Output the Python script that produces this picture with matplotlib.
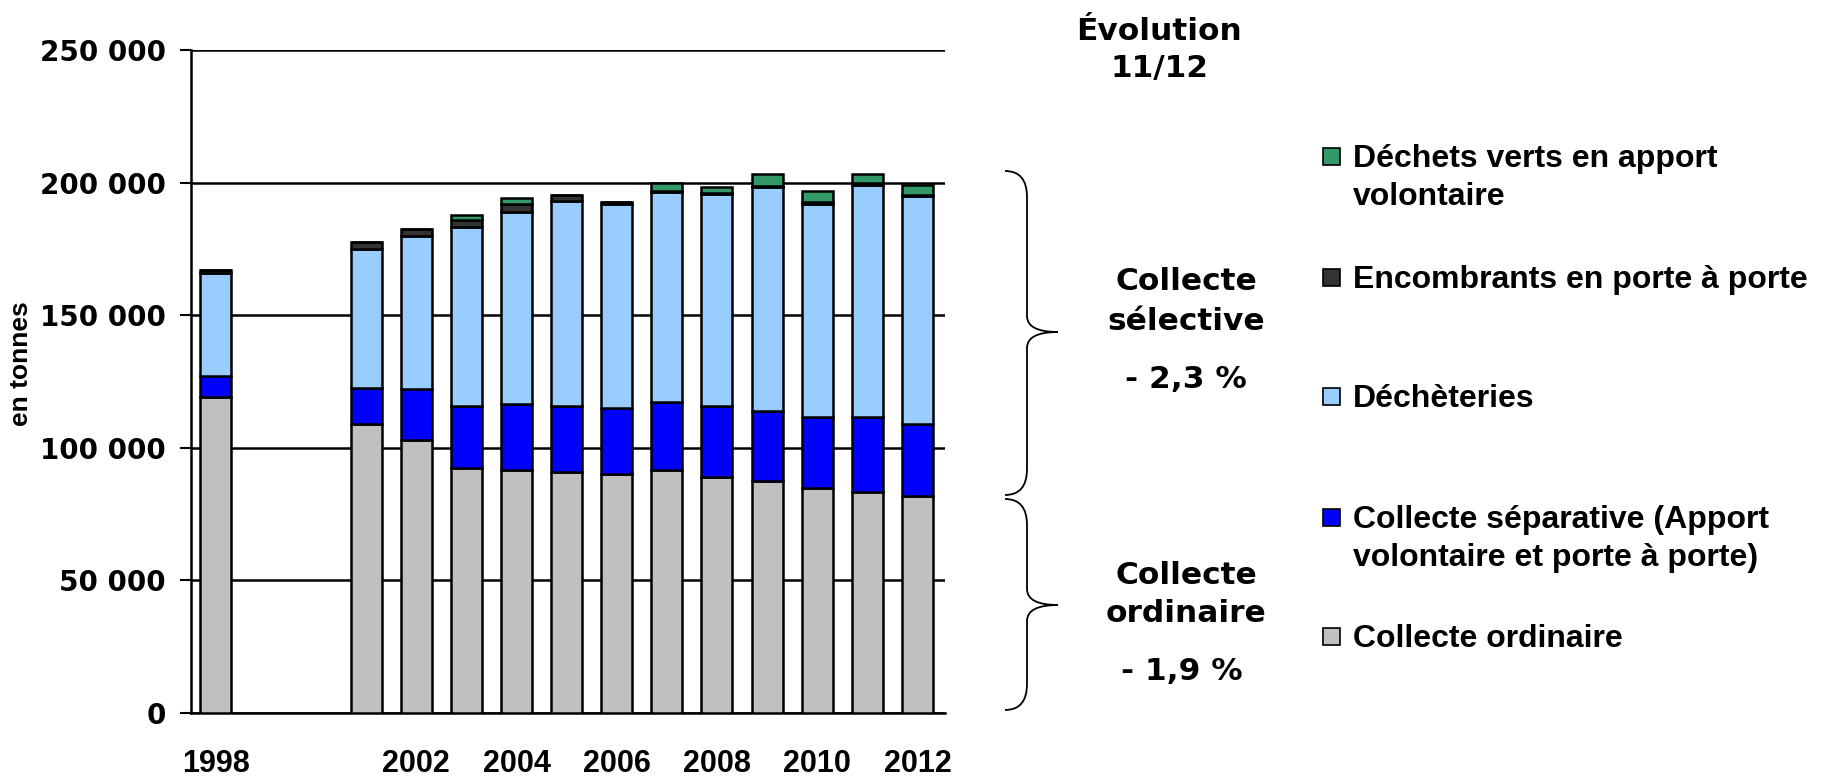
import numpy as np
import matplotlib.pyplot as plt
from matplotlib.path import Path
from matplotlib.patches import PathPatch, Rectangle

years = [1998, 2001, 2002, 2003, 2004, 2005, 2006, 2007, 2008, 2009, 2010, 2011, 2012]
ordinaire = [119000, 109000, 103100, 92400, 91500, 90900, 90000, 91500, 89000, 87400, 84900, 83300, 81700]
separative = [8100, 13400, 19250, 23250, 25000, 24750, 24900, 25900, 26600, 26600, 26600, 28200, 27300]
decheteries = [38750, 52600, 57500, 67750, 72500, 77500, 76900, 79100, 80250, 84400, 80250, 87750, 86000]
encombrants = [1250, 2750, 2750, 2500, 2750, 2100, 1000, 300, 300, 300, 1000, 750, 250]
verts = [0, 0, 0, 1750, 2500, 0, 0, 3200, 2200, 4700, 4000, 3400, 3800]

series = [
    ("Collecte ordinaire", ordinaire, "#C0C0C0"),
    ("Collecte séparative (Apport\nvolontaire et porte à porte)", separative, "#0000FF"),
    ("Déchèteries", decheteries, "#99CCFF"),
    ("Encombrants en porte à porte", encombrants, "#333333"),
    ("Déchets verts en apport\nvolontaire", verts, "#339966"),
]
year_ticks = [1998, 2002, 2004, 2006, 2008, 2010, 2012]
y_ticks = [0, 50000, 100000, 150000, 200000, 250000]

W, H = 1821, 777
fig = plt.figure(figsize=(W / 100, H / 100), dpi=100)
ax = fig.add_axes([190.7 / W, 1 - 713 / H, (945 - 190.7) / W, (713 - 50) / H])

x = np.array(years) - years[0]
bottom = np.zeros(len(years))
for name, vals, col in series:
    ax.bar(x, vals, width=0.62, bottom=bottom, color=col, edgecolor="black",
           linewidth=1.8, zorder=3)
    bottom += np.array(vals)

ax.set_xlim(-0.5, 14.55)
ax.set_ylim(0, 250000)
ax.set_yticks(y_ticks)
ax.set_yticklabels([f"{v:,}".replace(",", " ") for v in y_ticks],
                   fontfamily="DejaVu Sans", fontweight="bold", fontsize=20)
ax.set_xticks(np.array(year_ticks) - years[0])
ax.set_xticklabels([str(y) for y in year_ticks], fontfamily="Liberation Sans",
                   fontweight="bold", fontsize=22)
ax.tick_params(axis="x", length=0, pad=26)
ax.tick_params(axis="y", length=8, width=1.5, pad=10, direction="out")
ax.grid(axis="y", color="black", linewidth=1.8, zorder=0)
for s in ["top", "right"]:
    ax.spines[s].set_visible(False)
for s in ["left", "bottom"]:
    ax.spines[s].set_linewidth(1.8)

# overlay in pixel coordinates for annotations and legend
ov = fig.add_axes([0, 0, 1, 1])
ov.set_xlim(0, W)
ov.set_ylim(H, 0)
ov.axis("off")

ov.text(21, 364, "en tonnes", rotation=90, ha="center", va="center",
        fontfamily="Liberation Sans", fontweight="bold", fontsize=19)

vfont = dict(fontfamily="DejaVu Sans", fontweight="bold", fontsize=22.5,
             ha="center", va="center")
ov.text(1159, 31, "Évolution", **vfont)
ov.text(1159, 69, "11/12", **vfont)
ov.text(1186, 282, "Collecte", **vfont)
ov.text(1186, 321, "sélective", **vfont)
ov.text(1186, 380, "- 2,3 %", **vfont)
ov.text(1186, 575, "Collecte", **vfont)
ov.text(1186, 613, "ordinaire", **vfont)
ov.text(1182, 672, "- 1,9 %", **vfont)


def brace(x0, xv, xt, ytop, ybot, ymid, r=26, rm=16):
    verts_ = [(x0, ytop), (xv, ytop), (xv, ytop + r),
              (xv, ymid - rm), (xv, ymid), (xt, ymid),
              (xv, ymid), (xv, ymid + rm),
              (xv, ybot - r), (xv, ybot), (x0, ybot)]
    codes = [Path.MOVETO, Path.CURVE3, Path.CURVE3,
             Path.LINETO, Path.CURVE3, Path.CURVE3,
             Path.CURVE3, Path.CURVE3,
             Path.LINETO, Path.CURVE3, Path.CURVE3]
    ov.add_patch(PathPatch(Path(verts_, codes), fill=False, lw=1.3, color="black"))


brace(1005, 1027, 1058, 171, 495, 332)
brace(1005, 1027, 1058, 499, 710, 605)

legend_rows = [156, 277, 396, 517, 636]
for (name, vals, col), yc in zip(series[::-1], legend_rows):
    ov.add_patch(Rectangle((1323, yc - 8), 17, 17, facecolor=col,
                           edgecolor="black", lw=1.2))
    for i, line in enumerate(name.split("\n")):
        ov.text(1353, yc + 11 + 38 * i, line, fontfamily="Liberation Sans",
                fontweight="bold", fontsize=23, ha="left", va="baseline")

fig.savefig("out.png", dpi=100)
